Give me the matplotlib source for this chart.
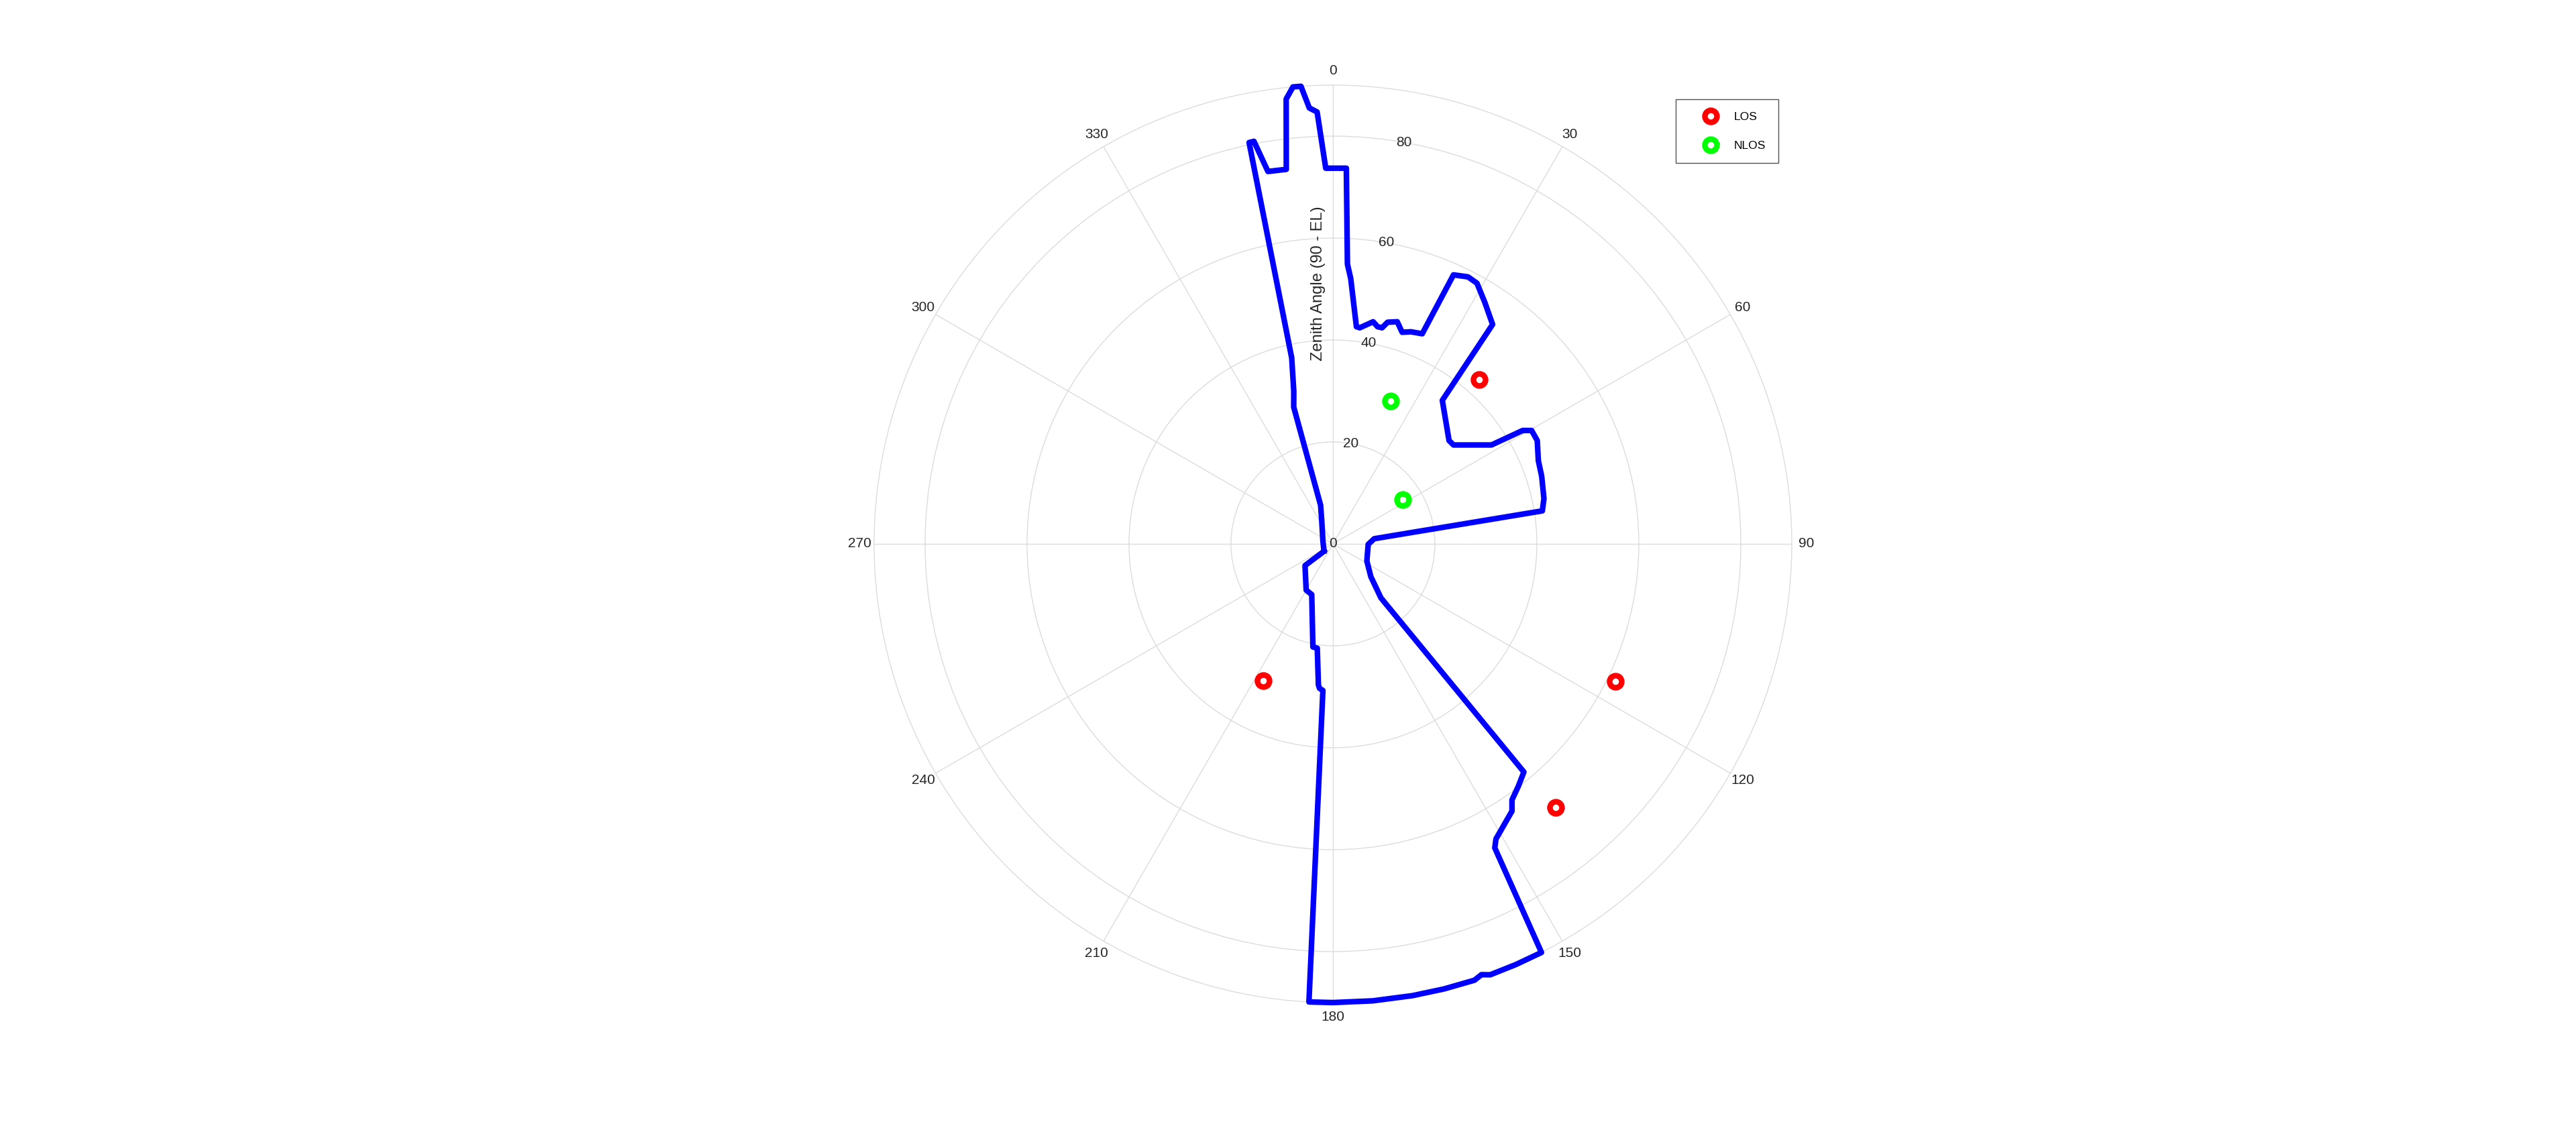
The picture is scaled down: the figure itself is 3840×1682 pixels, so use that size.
import numpy as np
import matplotlib
matplotlib.use("Agg")
import matplotlib.pyplot as plt

# === Sky mask outline (azimuth deg, zenith angle deg) ===
mask_az = [231.4, 286.0, 334.0, 342.3, 344.0, 345.6, 347.5, 348.2, 348.9, 350.1,
           352.9, 354.0, 355.0, 356.0, 356.9, 357.9, 358.9, 2.04, 2.96, 3.84,
           6.16, 7.07, 10.25, 11.6, 12.8, 13.85, 16.14, 18.1, 20.21, 23.02,
           24.13, 26.82, 28.91, 32.11, 36.03, 37.3, 48.32, 50.63, 58.03, 59.13,
           60.28, 63.17, 67.93, 72.04, 77.87, 81.04, 82.87, 90.8, 116.9, 130.9,
           138.4, 140.08, 142.64, 145.04, 146.18, 151.09, 151.98, 152.97, 156.5, 159.95,
           160.99, 162.03, 166.0, 170.0, 175.0, 180.0, 183.0, 183.92, 185.3, 185.88,
           188.55, 191.0, 202.7, 210.1, 232.2, 230.6, 231.4]
mask_zen = [2.25, 2.05, 5.01, 7.96, 27.92, 30.89, 37.38, 80.44, 80.49, 74.17,
            74.05, 87.76, 90.0, 90.0, 85.65, 84.8, 73.72, 73.76, 54.96, 52.15,
            42.86, 42.72, 44.29, 43.5, 43.48, 44.79, 45.37, 43.68, 44.34, 44.79,
            57.84, 58.7, 58.43, 56.0, 53.24, 35.4, 30.49, 30.59, 36.65, 43.36,
            44.87, 44.91, 43.47, 43.04, 42.33, 41.58, 8.16, 6.91, 7.46, 9.84,
            14.18, 58.36, 59.89, 61.29, 63.1, 66.14, 67.57, 90.0, 90.0, 90.0,
            89.4, 90.0, 90.0, 90.0, 90.0, 90.0, 90.0, 28.84, 28.46, 27.83,
            20.69, 20.61, 10.78, 10.48, 6.93, 2.55, 2.25]

# === Satellites ===
los_az = [41.67, 116.0, 139.86, 207.1]
los_zen = [43.14, 61.64, 67.72, 30.11]
nlos_az = [21.87, 57.6]
nlos_zen = [30.2, 16.18]

theta_ticks = list(range(0, 360, 30))
r_ticks = [0, 20, 40, 60, 80]

plt.rcParams['font.family'] = ['Liberation Sans', 'DejaVu Sans']
text_col = '#262626'
grid_col = '#dcdcdc'

fig = plt.figure(figsize=(38.4, 16.82), dpi=100)
ax = fig.add_axes([0.3393, 0.1112, 0.3563, 0.8133], projection='polar')
ax.set_theta_zero_location('N')
ax.set_theta_direction(-1)
ax.set_ylim(0, 90)

# grid
ax.set_thetagrids(theta_ticks, labels=[''] * len(theta_ticks))
ax.set_yticks(r_ticks[1:])
ax.set_yticklabels([])
ax.grid(True, color=grid_col, linewidth=1.0)
ax.spines['polar'].set_color(grid_col)
ax.spines['polar'].set_linewidth(1.0)
ax.tick_params(length=0)

# tick labels placed by hand (MATLAB style)
for t in theta_ticks:
    ax.text(np.deg2rad(t), 92.8, str(t), ha='center', va='center',
            fontsize=15, color=text_col, clip_on=False)
for r in r_ticks:
    ax.text(np.deg2rad(10), r, str(r), ha='center', va='center',
            fontsize=15, color=text_col)
ax.text(np.deg2rad(356.8), 51.2, 'Zenith Angle (90 - EL)', rotation=90,
        ha='center', va='center', fontsize=17, color=text_col)

# sky mask
ax.plot(np.deg2rad(mask_az), mask_zen, color=(0, 0, 1), linewidth=6,
        solid_joinstyle='round', clip_on=False, zorder=5)

# satellites
ax.plot(np.deg2rad(los_az), los_zen, 'o', color=(1, 0, 0), mfc='none',
        markersize=13, markeredgewidth=6, label='LOS', zorder=6)
ax.plot(np.deg2rad(nlos_az), nlos_zen, 'o', color=(0, 1, 0), mfc='none',
        markersize=13, markeredgewidth=6, label='NLOS', zorder=6)

leg = fig.legend(loc='upper left', bbox_to_anchor=(0.6504, 0.9118),
                 fontsize=12.6, frameon=True, fancybox=False, borderpad=1.07,
                 handlelength=3.9, handletextpad=0.0, labelspacing=1.55,
                 borderaxespad=0)
leg.get_frame().set_edgecolor(text_col)
leg.get_frame().set_linewidth(1.0)

fig.savefig("out.png", dpi=100, facecolor='white')
